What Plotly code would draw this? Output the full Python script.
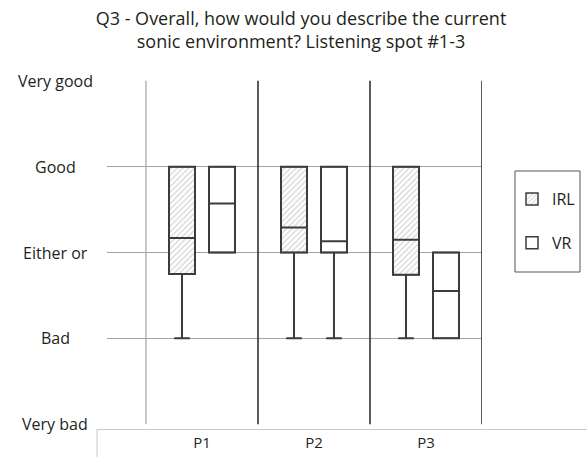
import plotly.graph_objects as go

# ---- data ----
categories = ["P1", "P2", "P3"]
y_tick_vals = [1, 2, 3, 4, 5]
y_tick_labels = ["Very bad", "Bad", "Either or", "Good", "Very good"]

irl_lower = [2, 2, 2]
irl_q1 = [2.75, 3.0, 2.74]
irl_median = [3.17, 3.29, 3.15]
irl_q3 = [4, 4, 4]
irl_upper = [4, 4, 4]

vr_lower = [3, 2, 2]
vr_q1 = [3, 3, 2]
vr_median = [3.57, 3.13, 2.55]
vr_q3 = [4, 4, 3]
vr_upper = [4, 4, 3]

# ---- styling ----
FONT = "Open Sans"
TXT = "#231f20"
EDGE = "#3c3c3c"
GRID = "#a3a3a3"

W, H = 587, 457
L, R, T, B = 107, 105, 80, 32
pw, ph = W - L - R, H - T - B
YPAD = 0.01
XRANGE = [-0.5 - 39 / 112, 2.5]

def px_x(p):
    return (p - L) / pw

def px_y(p):
    return (H - B - p) / ph

# box geometry in category units (boxgap/boxgroupgap below give the same)
BOXGAP, GROUPGAP = 0.286, 0.35
dpos = 0.5 * (1 - BOXGAP)
bw = dpos * (1 - GROUPGAP)
off_irl = -dpos / 2 - bw / 2
off_vr = dpos / 2 - bw / 2

fig = go.Figure()

# hatch fills (bars under the boxes)
fig.add_trace(go.Bar(
    x=categories, y=[a - b for a, b in zip(irl_q3, irl_q1)], base=irl_q1,
    width=bw, offset=off_irl, name="IRL", legendgroup="irl", offsetgroup="irl",
    marker=dict(color="white", line=dict(color=EDGE, width=1.5),
                pattern=dict(shape="/", fgcolor="#a8a8a8",
                             bgcolor="white", size=4, solidity=0.3)),
    hoverinfo="skip"))
fig.add_trace(go.Bar(
    x=categories, y=[a - b for a, b in zip(vr_q3, vr_q1)], base=vr_q1,
    width=bw, offset=off_vr, name="VR", legendgroup="vr", offsetgroup="vr",
    marker=dict(color="white", line=dict(color=EDGE, width=1.5)),
    hoverinfo="skip"))

# boxes
fig.add_trace(go.Box(
    x=categories, q1=irl_q1, median=irl_median, q3=irl_q3,
    lowerfence=irl_lower, upperfence=irl_upper, name="IRL",
    offsetgroup="irl",
    fillcolor="rgba(0,0,0,0)", line=dict(color=EDGE, width=2),
    whiskerwidth=0.6, showlegend=False, boxpoints=False, hoverinfo="skip"))
fig.add_trace(go.Box(
    x=categories, q1=vr_q1, median=vr_median, q3=vr_q3,
    lowerfence=vr_lower, upperfence=vr_upper, name="VR",
    offsetgroup="vr",
    fillcolor="rgba(0,0,0,0)", line=dict(color=EDGE, width=2),
    whiskerwidth=0.6, showlegend=False, boxpoints=False, hoverinfo="skip"))

shapes = []
# category boundary lines
for i, xb in enumerate([-0.5, 0.5, 1.5, 2.5]):
    shapes.append(dict(type="line", xref="x", yref="y", x0=xb, x1=xb,
                       y0=y_tick_vals[0], y1=y_tick_vals[-1],
                       line=dict(color=GRID if i == 0 else "#333333",
                                 width=1.2 if i == 0 else 1.6)))
# table-like border under the chart
shapes.append(dict(type="line", xref="paper", yref="paper",
                   x0=px_x(97), x1=px_x(587), y0=px_y(429.5), y1=px_y(429.5),
                   line=dict(color="#c8c8c8", width=1)))
shapes.append(dict(type="line", xref="paper", yref="paper",
                   x0=px_x(97), x1=px_x(97), y0=px_y(429.5), y1=px_y(457),
                   line=dict(color="#c8c8c8", width=1)))
# legend frame
shapes.append(dict(type="rect", xref="paper", yref="paper",
                   x0=px_x(515), x1=px_x(580), y0=px_y(171), y1=px_y(272),
                   line=dict(color="#555555", width=1)))

annotations = []
for v, lab in zip(y_tick_vals, y_tick_labels):
    annotations.append(dict(x=px_x(55), xref="paper", y=v, yref="y",
                            text=lab, showarrow=False, xanchor="center",
                            yanchor="middle",
                            font=dict(family=FONT, size=16, color=TXT)))

fig.update_layout(
    width=W, height=H,
    margin=dict(l=L, r=R, t=T, b=B, autoexpand=False),
    paper_bgcolor="white", plot_bgcolor="white",
    title=dict(text="Q3 - Overall, how would you describe the current<br>sonic environment? Listening spot #1-3",
               x=301 / W, xanchor="center", xref="container",
               y=1 - 25 / H, yanchor="top", yref="container",
               font=dict(family=FONT, size=18, color=TXT)),
    font=dict(family=FONT, size=15, color=TXT),
    barmode="group", boxmode="group", boxgap=BOXGAP, boxgroupgap=GROUPGAP,
    showlegend=True,
    legend=dict(x=px_x(512), xanchor="left", y=px_y(182), yanchor="top",
                traceorder="grouped", tracegroupgap=20,
                bgcolor="rgba(0,0,0,0)", borderwidth=0,
                font=dict(family=FONT, size=16, color=TXT)),
    xaxis=dict(type="category", categoryorder="array", categoryarray=categories,
               range=XRANGE, showgrid=False, zeroline=False, automargin=False,
               showline=False, ticks="", ticklabelstandoff=7,
               tickfont=dict(family=FONT, size=15, color=TXT)),
    yaxis=dict(range=[y_tick_vals[0] - YPAD, y_tick_vals[-1] + YPAD],
               tickvals=y_tick_vals, automargin=False,
               showticklabels=False, showgrid=True, gridcolor=GRID,
               gridwidth=1, zeroline=False, showline=False, ticks=""),
    shapes=shapes, annotations=annotations,
)

fig.write_html("out.html", config={"displayModeBar": False},
               post_script="document.body.style.margin='0';")
